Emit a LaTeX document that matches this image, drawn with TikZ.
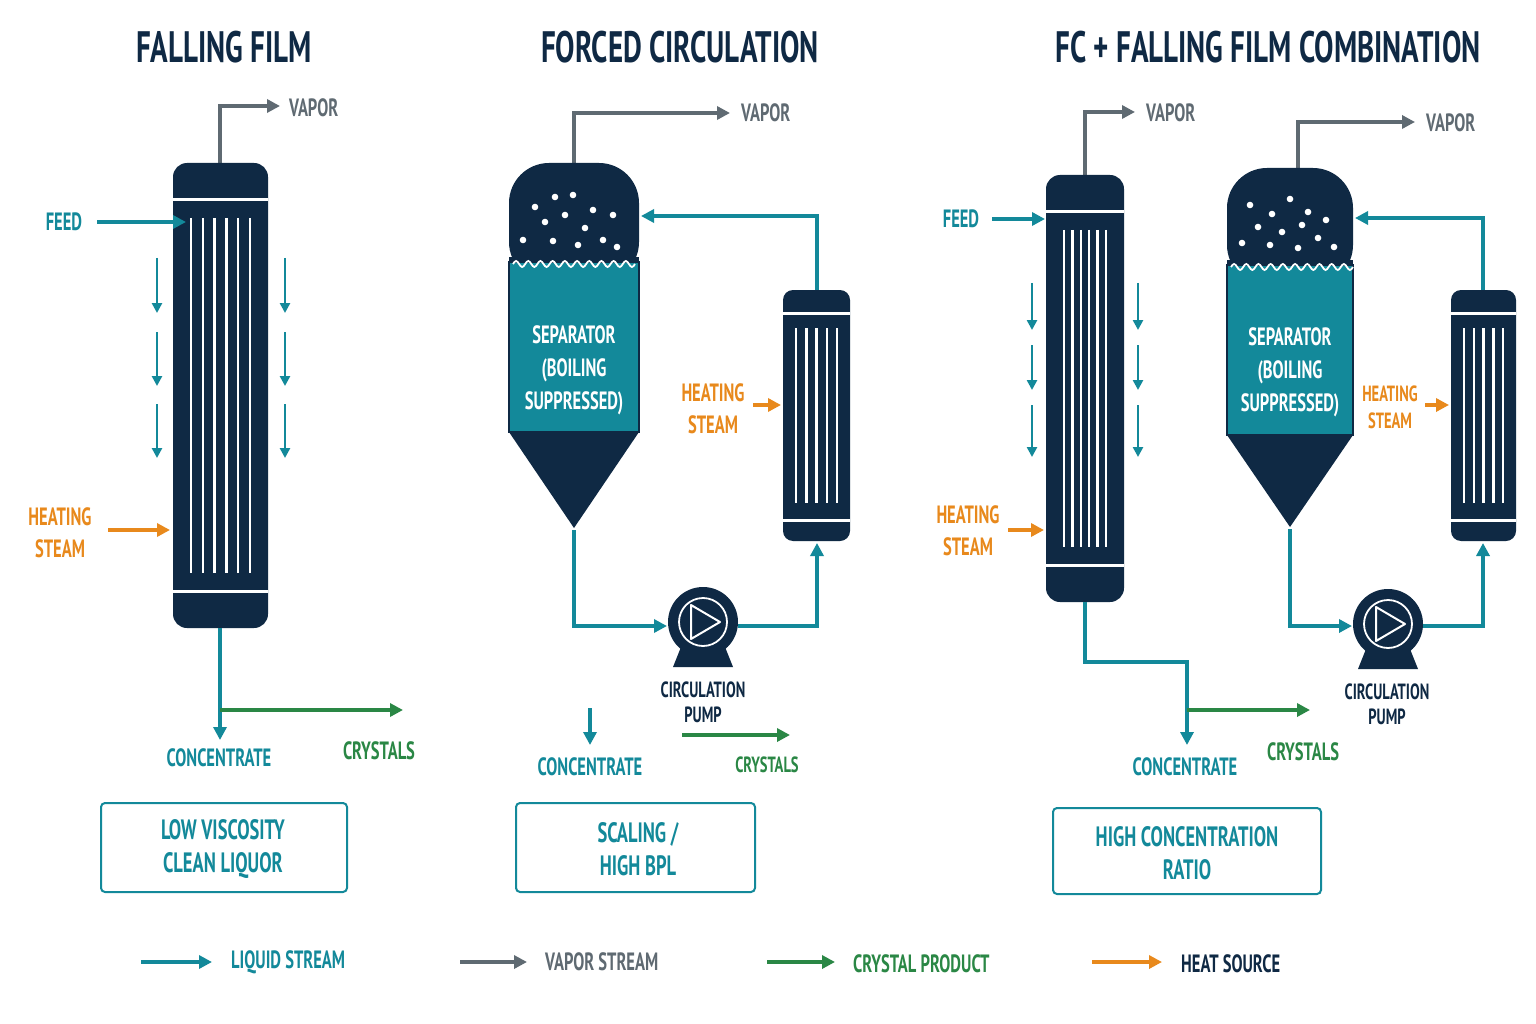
\documentclass[tikz,border=0pt]{standalone}
\usepackage{fontspec}
\setmainfont{PT Sans}[FakeStretch=0.66]
\usetikzlibrary{arrows.meta}
\definecolor{navy}{HTML}{0F2944}
\definecolor{teal}{HTML}{13899A}
\definecolor{vgray}{HTML}{5F6A72}
\definecolor{cgreen}{HTML}{2A8745}
\definecolor{heat}{HTML}{E8891C}
\tikzset{
 x=1pt,y=-1pt,
 lab/.style={font=\fontsize{25}{28}\selectfont\bfseries,align=center,inner sep=0},
 title/.style={font=\fontsize{44}{48}\selectfont\bfseries,text=navy,inner sep=0},
 liq/.style={draw=teal,line width=3.5pt,-{Triangle[length=13pt,width=13pt]}},
 liqn/.style={draw=teal,line width=3.5pt},
 vap/.style={draw=vgray,line width=3.5pt,-{Triangle[length=13pt,width=13pt]}},
 cry/.style={draw=cgreen,line width=3.5pt,-{Triangle[length=13pt,width=13pt]}},
 hot/.style={draw=heat,line width=3.5pt,-{Triangle[length=13pt,width=13pt]}},
 dn/.style={draw=teal,line width=2.5pt,-{Triangle[length=10pt,width=10pt]}},
 box/.style={draw=teal,line width=2pt,rounded corners=4pt},
 tube/.style={white,line width=2.5pt},
}
\newcommand{\column}[5]{% x1 x2 ytop ybot prefix
 \fill[navy,rounded corners=14pt] (#1,#3) rectangle (#2,#4);
 \draw[white,line width=3pt] (#1,#3+37) -- (#2,#3+37) (#1,#4-37) -- (#2,#4-37);
 \foreach \i in {0,...,5}{\draw[tube] ({#1+18+\i*((#2-#1-36)/5)},#3+55) -- ({#1+18+\i*((#2-#1-36)/5)},#4-55);}
}
\newcommand{\heater}[4]{%
 \fill[navy,rounded corners=10pt] (#1,#3) rectangle (#2,#4);
 \draw[white,line width=3pt] (#1,#3+23) -- (#2,#3+23) (#1,#4-21) -- (#2,#4-21);
 \foreach \i in {0,...,4}{\draw[tube] ({#1+13+\i*((#2-#1-26)/4)},#3+38) -- ({#1+13+\i*((#2-#1-26)/4)},#4-38);}
}
\newcommand{\separator}[6]{% x1 x2 ytop ywater ycone apexy
 \fill[navy,rounded corners=40pt] (#1,#4+20) -- (#1,#3) -- (#2,#3) -- (#2,#4+20) -- cycle;
 \fill[navy] (#1,#4-5) rectangle (#2,#4+20);
 \fill[teal,draw=navy,line width=2pt] (#1,#4) rectangle (#2,#5);
 \fill[navy] (#1,#5) -- (#2,#5) -- ({(#1+#2)/2},#6) -- cycle;
 \draw[white,line width=1.8pt] (#1+4,#4+2) \foreach \k in {0,...,9}{ sin ++(3.05,-3) cos ++(3.05,3) sin ++(3.05,3) cos ++(3.05,-3)};
}
\newcommand{\pump}[3]{%
 \fill[navy] (#1-30,#2+45) -- (#1+30,#2+45) -- (#1+22,#2+25) -- (#1-22,#2+25) -- cycle;
 \fill[navy] (#1,#2) circle (35);
 \draw[white,line width=1.8pt] (#1,#2) circle (24);
 \draw[white,line width=2pt,line join=round] (#1-12,#2-17) -- (#1+17,#2) -- (#1-12,#2+17) -- cycle;
 \coordinate (#3) at (#1,#2);
}
\begin{document}
\begin{tikzpicture}
\fill[white] (0,0) rectangle (1536,1024);
% titles
\node[title] (t1) at (224,47) {FALLING FILM};
\node[title] (t2) at (680,47) {FORCED CIRCULATION};
\node[title] (t3) at (1268,47) {FC + FALLING FILM COMBINATION};

% ===== Falling film
\draw[vap] (220,165) -- (220,106) -- (280,106);
\node[lab,text=vgray,anchor=west] (v1) at (289,108) {VAPOR};
\column{173}{268}{163}{628}{a}
\node[lab,text=teal] (f1) at (64,222) {FEED};
\draw[liq] (97,222) -- (186,222);
\foreach \x in {157,285}{\foreach \a/\b in {258/313,332/386,404/458}{\draw[dn] (\x,\a) -- (\x,\b);}}
\node[lab,text=heat] (h1) at (60,533) {HEATING\\[4pt]STEAM};
\draw[hot] (108,530) -- (170,530);
\draw[liq] (220,628) -- (220,740);
\draw[cry] (220,710) -- (403,710);
\node[lab,text=teal] (c1) at (219,758) {CONCENTRATE};
\node[lab,text=cgreen] (k1) at (379,751) {CRYSTALS};
\draw[box] (101,803) rectangle (347,892);
\node[lab,text=teal,font=\fontsize{28}{33}\selectfont\bfseries] (b1) at (223,849) {LOW VISCOSITY\\CLEAN LIQUOR};

% ===== Forced circulation
\draw[vap] (574,165) -- (574,113) -- (730,113);
\node[lab,text=vgray,anchor=west] (v2) at (741,113) {VAPOR};
\separator{509}{639}{163}{262}{432}{528}
\foreach \p in {(535,207),(555,197),(573,195),(593,210),(613,215),(545,222),(565,215),(585,228),(603,240),(523,240),(553,241),(578,245),(617,247)}{\fill[white] \p circle (3.3);}
\node[lab,text=white] (s2) at (574,370) {SEPARATOR\\[5pt](BOILING\\[5pt]SUPPRESSED)};
\heater{783}{850}{290}{541}
\draw[liq] (817,290) -- (817,216) -- (641,216);
\pump{703}{622}{p1}
\draw[liq] (574,530) -- (574,626) -- (667,626);
\draw[liq] (738,626) -- (817,626) -- (817,543);
\node[lab,text=heat] (h2) at (713,409) {HEATING\\[4pt]STEAM};
\draw[hot] (753,405) -- (781,405);
\node[lab,text=navy,font=\fontsize{22}{25}\selectfont\bfseries] (cp1) at (703,702) {CIRCULATION\\PUMP};
\draw[liq] (590,708) -- (590,745);
\node[lab,text=teal] (c2) at (590,767) {CONCENTRATE};
\draw[cry] (682,735) -- (790,735);
\node[lab,text=cgreen,font=\fontsize{22}{25}\selectfont\bfseries] (k2) at (767,765) {CRYSTALS};
\draw[box] (516,803) rectangle (755,892);
\node[lab,text=teal,font=\fontsize{28}{33}\selectfont\bfseries] (b2) at (638,849) {SCALING /\\HIGH BPL};

% ===== Combination
\draw[vap] (1085,177) -- (1085,112) -- (1135,112);
\node[lab,text=vgray,anchor=west] (v3) at (1146,113) {VAPOR};
\column{1046}{1124}{175}{602}{c}
\node[lab,text=teal] (f3) at (961,219) {FEED};
\draw[liq] (992,219) -- (1045,219);
\foreach \x in {1032,1138}{\foreach \a/\b in {283/330,345/390,405/457}{\draw[dn] (\x,\a) -- (\x,\b);}}
\node[lab,text=heat] (h3) at (968,531) {HEATING\\[4pt]STEAM};
\draw[hot] (1008,530) -- (1044,530);
\draw[liq] (1085,602) -- (1085,662) -- (1187,662) -- (1187,745);
\draw[cry] (1187,710) -- (1310,710);
\node[lab,text=teal] (c3) at (1185,767) {CONCENTRATE};
\node[lab,text=cgreen] (k3) at (1303,752) {CRYSTALS};
\draw[box] (1053,808) rectangle (1321,894);
\node[lab,text=teal,font=\fontsize{28}{33}\selectfont\bfseries] (b3) at (1187,853) {HIGH CONCENTRATION\\RATIO};
\draw[vap] (1298,170) -- (1298,122) -- (1415,122);
\node[lab,text=vgray,anchor=west] (v4) at (1426,123) {VAPOR};
\separator{1227}{1353}{168}{265}{435}{527}
\foreach \p in {(1250,205),(1272,214),(1290,199),(1308,212),(1326,220),(1258,227),(1282,232),(1302,225),(1318,238),(1242,243),(1270,245),(1298,248),(1334,247)}{\fill[white] \p circle (3.3);}
\node[lab,text=white] (s4) at (1290,372) {SEPARATOR\\[5pt](BOILING\\[5pt]SUPPRESSED)};
\heater{1451}{1516}{290}{541}
\draw[liq] (1483,290) -- (1483,218) -- (1355,218);
\pump{1388}{624}{p2}
\draw[liq] (1290,529) -- (1290,626) -- (1352,626);
\draw[liq] (1423,626) -- (1483,626) -- (1483,543);
\node[lab,text=heat,font=\fontsize{22}{25}\selectfont\bfseries] (h4) at (1390,407) {HEATING\\[2pt]STEAM};
\draw[hot] (1425,405) -- (1449,405);
\node[lab,text=navy,font=\fontsize{22}{25}\selectfont\bfseries] (cp2) at (1387,704) {CIRCULATION\\PUMP};

% ===== legend
\draw[liq] (141,962) -- (212,962);
\node[lab,text=teal,anchor=west] (l1) at (231,962) {LIQUID STREAM};
\draw[vap] (460,962) -- (527,962);
\node[lab,text=vgray,anchor=west] (l2) at (545,962) {VAPOR STREAM};
\draw[cry] (767,962) -- (835,962);
\node[lab,text=cgreen,anchor=west] (l3) at (853,964) {CRYSTAL PRODUCT};
\draw[hot] (1092,962) -- (1162,962);
\node[lab,text=navy,anchor=west] (l4) at (1181,964) {HEAT SOURCE};
\end{tikzpicture}
\end{document}
